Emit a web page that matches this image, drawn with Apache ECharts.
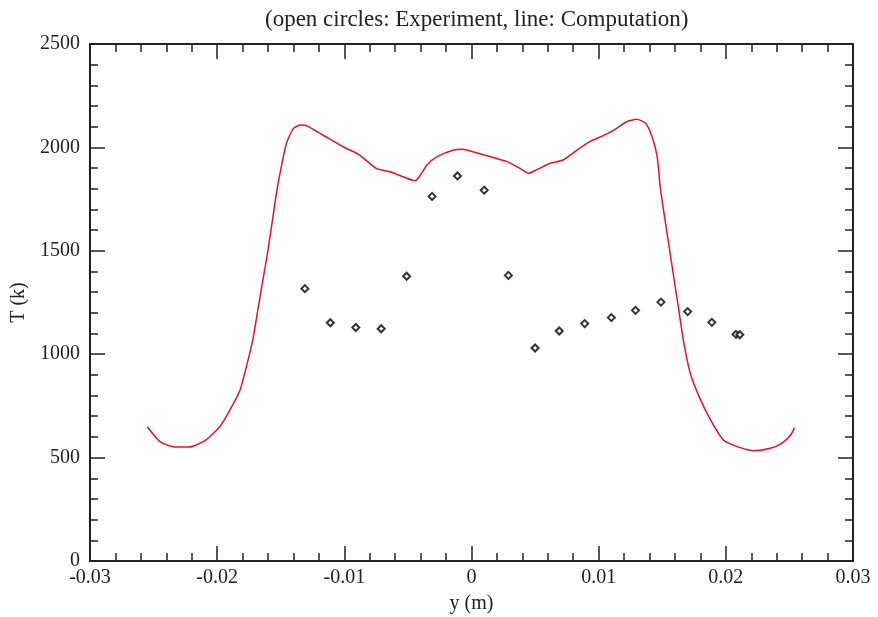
<!DOCTYPE html>
<html>
<head>
<meta charset="utf-8">
<script src="https://cdn.jsdelivr.net/npm/echarts@6/dist/echarts.min.js"></script>
<style>html,body{margin:0;padding:0;background:#fff;}#c{width:878px;height:617px;}</style>
</head>
<body>
<div id="c"></div>
<script>
// Experiment (open symbols)
const expX = [-0.0131, -0.0111, -0.0091, -0.0071, -0.0051, -0.0031, -0.0011, 0.0010, 0.0029, 0.0050, 0.0069, 0.0089, 0.0110, 0.0129, 0.0149, 0.0170, 0.0189, 0.0208, 0.0211];
const expT = [1317, 1152, 1129, 1123, 1377, 1763, 1862, 1793, 1381, 1030, 1112, 1148, 1177, 1212, 1252, 1206, 1154, 1096, 1094];
// Computation (line)
const compX = [-0.0255, -0.0245, -0.0235, -0.0222, -0.0209, -0.0198, -0.0190, -0.0182, -0.0177, -0.0172, -0.0168, -0.0164, -0.0160, -0.01565, -0.0153, -0.0149, -0.01455, -0.0140, -0.0134, -0.0130, -0.0117, -0.0101, -0.0088, -0.0075, -0.0064, -0.0054, -0.00445, -0.0041, -0.0035, -0.0027, -0.0014, -0.0007, 0.0001, 0.0015, 0.0028, 0.0038, 0.0045, 0.0051, 0.0062, 0.0072, 0.0083, 0.0093, 0.0099, 0.0112, 0.0122, 0.0130, 0.0137, 0.0142, 0.0146, 0.01484, 0.0151, 0.0155, 0.0159, 0.0163, 0.0167, 0.0172, 0.0179, 0.0188, 0.0198, 0.0209, 0.0222, 0.0235, 0.0244, 0.0251, 0.0254];
const compT = [649, 577, 553, 551, 585, 649, 730, 827, 940, 1069, 1214, 1359, 1504, 1649, 1794, 1923, 2020, 2092, 2108, 2106, 2060, 2003, 1963, 1899, 1882, 1858, 1839, 1858, 1915, 1955, 1987, 1991, 1979, 1955, 1931, 1899, 1875, 1891, 1923, 1939, 1987, 2028, 2044, 2084, 2124, 2136, 2116, 2052, 1955, 1810, 1697, 1536, 1375, 1214, 1053, 908, 795, 682, 585, 553, 533, 545, 569, 609, 645];
const xTicks = {min: -0.03, max: 0.03, interval: 0.01};
const yTicks = {min: 0, max: 2500, interval: 500};

const font = '"Liberation Serif", "DejaVu Serif", serif';
const axisLine = {show: true, onZero: false, lineStyle: {color: '#222', width: 2}};
const tick = {show: true, inside: true, length: 15, lineStyle: {color: '#222', width: 1.5}};
const minor = {show: true, splitNumber: 5, length: 8, lineStyle: {color: '#222', width: 1.5}};
const fmtX = v => String(+(+v).toFixed(3));
const fmtY = v => String(Math.round(v));

const chart = echarts.init(document.getElementById('c'));
chart.setOption({
  animation: false,
  backgroundColor: '#fff',
  title: {
    text: '(open circles: Experiment, line: Computation)',
    left: 260, top: 3,
    textStyle: {fontFamily: font, fontSize: 23, fontWeight: 'normal', color: '#222'}
  },
  grid: {left: 90, right: 25, top: 44, bottom: 56, containLabel: false, outerBoundsMode: 'none'},
  xAxis: [
    {type: 'value', position: 'bottom', min: xTicks.min, max: xTicks.max, interval: xTicks.interval,
     name: 'y (m)', nameLocation: 'middle', nameGap: 33,
     nameTextStyle: {fontFamily: font, fontSize: 20, color: '#222'},
     axisLine: axisLine, axisTick: tick, minorTick: minor, splitLine: {show: false},
     axisLabel: {fontFamily: font, fontSize: 20, color: '#222', margin: 7, formatter: fmtX}},
    {type: 'value', position: 'top', min: xTicks.min, max: xTicks.max, interval: xTicks.interval,
     axisLine: axisLine, axisTick: tick, minorTick: minor, splitLine: {show: false},
     axisLabel: {show: false}}
  ],
  yAxis: [
    {type: 'value', position: 'left', min: yTicks.min, max: yTicks.max, interval: yTicks.interval,
     name: 'T (k)', nameLocation: 'middle', nameGap: 52, nameRotate: 90,
     nameTextStyle: {fontFamily: font, fontSize: 20, color: '#222'},
     axisLine: axisLine, axisTick: tick, minorTick: minor, splitLine: {show: false},
     axisLabel: {fontFamily: font, fontSize: 20, color: '#222', margin: 10, formatter: fmtY}},
    {type: 'value', position: 'right', min: yTicks.min, max: yTicks.max, interval: yTicks.interval,
     axisLine: axisLine, axisTick: tick, minorTick: minor, splitLine: {show: false},
     axisLabel: {show: false}}
  ],
  series: [
    {type: 'line', name: 'Computation', data: compX.map((x, i) => [x, compT[i]]),
     showSymbol: false, smooth: 0.2, lineStyle: {color: '#e3122e', width: 1.5}, z: 2},
    {type: 'scatter', name: 'Experiment', data: expX.map((x, i) => [x, expT[i]]),
     symbol: 'diamond', symbolSize: 7,
     itemStyle: {color: '#fff', borderColor: '#000', borderWidth: 2}, z: 3}
  ]
});
</script>
</body>
</html>
